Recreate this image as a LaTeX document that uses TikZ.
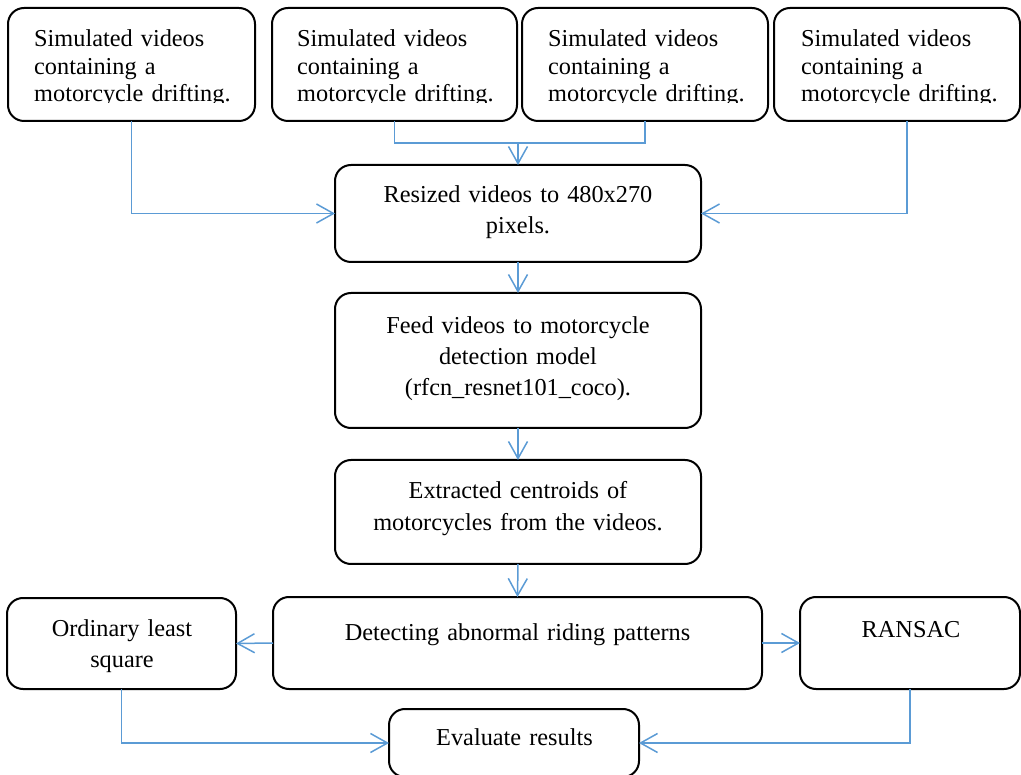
\documentclass[tikz,border=0pt]{standalone}
\usepackage{fontspec}
\setmainfont{Liberation Serif}
\usetikzlibrary{arrows.meta}
\definecolor{flow}{RGB}{91,155,213}
\tikzset{
  box/.style={draw=black, line width=2pt, rounded corners=16pt, inner sep=0pt, outer sep=0pt, anchor=north west},
  link/.style={draw=flow, line width=1.5pt},
  conn/.style={link, -{Straight Barb[length=17pt,width=19pt]}},
  toptext/.style={font=\fontsize{24.3}{27.7}\selectfont, text width=230pt, align=left, anchor=base west, inner sep=0pt},
  midtext/.style={font=\fontsize{24.3}{31.3}\selectfont, text width=400pt, align=center, anchor=base, inner sep=0pt},
}
\begin{document}
\begin{tikzpicture}[x=1pt, y=-1pt]
  \clip (0,0) rectangle (1021,775);
  \useasboundingbox (0,0) rectangle (1021,775);

  % source boxes
  \node[box, minimum width=247pt, minimum height=113pt] (b1) at (8,8) {};
  \node[box, minimum width=245pt, minimum height=113pt] (b2) at (272,8) {};
  \node[box, minimum width=246pt, minimum height=113pt] (b3) at (522,8) {};
  \node[box, minimum width=246pt, minimum height=113pt] (b4) at (774,8) {};

  % their text, cut off at the last baseline
  \begin{scope}
    \clip (0,0) rectangle (1021,102.5);
    \node[toptext] (t1) at (34,46.5) {Simulated videos\\containing a\\motorcycle drifting.};
    \node[toptext] (t2) at (297,46.5) {Simulated videos\\containing a\\motorcycle drifting.};
    \node[toptext] (t3) at (548,46.5) {Simulated videos\\containing a\\motorcycle drifting.};
    \node[toptext] (t4) at (801,46.5) {Simulated videos\\containing a\\motorcycle drifting.};
  \end{scope}

  % processing chain
  \node[box, minimum width=366pt, minimum height=97pt]  (rs) at (335,165) {};
  \node[box, minimum width=366pt, minimum height=135pt] (fd) at (335,293) {};
  \node[box, minimum width=366pt, minimum height=104pt] (ex) at (335,460) {};
  \node[box, minimum width=489pt, minimum height=92pt]  (dt) at (273,597) {};
  \node[box, minimum width=229pt, minimum height=91pt]  (ols) at (7,598) {};
  \node[box, minimum width=220pt, minimum height=92pt]  (rn) at (800,597) {};
  \node[box, minimum width=250pt, minimum height=68pt]  (ev) at (389,709) {};

  \node[midtext] (trs) at (518,202.7) {Resized videos to 480x270\\pixels.};
  \node[midtext] (tfd) at (518,333.3) {Feed videos to motorcycle\\detection model\\(rfcn\_resnet101\_coco).};
  \node[midtext] (tex) at (518,499) {Extracted centroids of\\motorcycles from the videos.};
  \node[midtext] (tdt) at (517.5,640) {Detecting abnormal riding patterns};
  \node[midtext] (tols) at (122,636.7) {Ordinary least\\square};
  \node[midtext] (trn) at (911,637) {RANSAC};
  \node[midtext] (tev) at (514.5,745) {Evaluate results};

  % connectors
  \coordinate (j) at (518,143);
  \draw[conn] (b1.south) |- (rs.west);
  \draw[conn] ([xshift=10pt]b4.south) |- (rs.east);
  \draw[link] (b2.south) |- (j);
  \draw[link] (b3.south) |- (j);
  \draw[conn] (j) -- (rs.north);
  \draw[conn] (rs.south) -- (fd.north);
  \draw[conn] (fd.south) -- (ex.north);
  \draw[conn] (ex.south) -- (dt.north);
  \draw[conn] (dt.west) -- (ols.east);
  \draw[conn] (dt.east) -- (rn.west);
  \draw[conn] (ols.south) |- (ev.west);
  \draw[conn] (rn.south) |- (ev.east);
\end{tikzpicture}
\end{document}
